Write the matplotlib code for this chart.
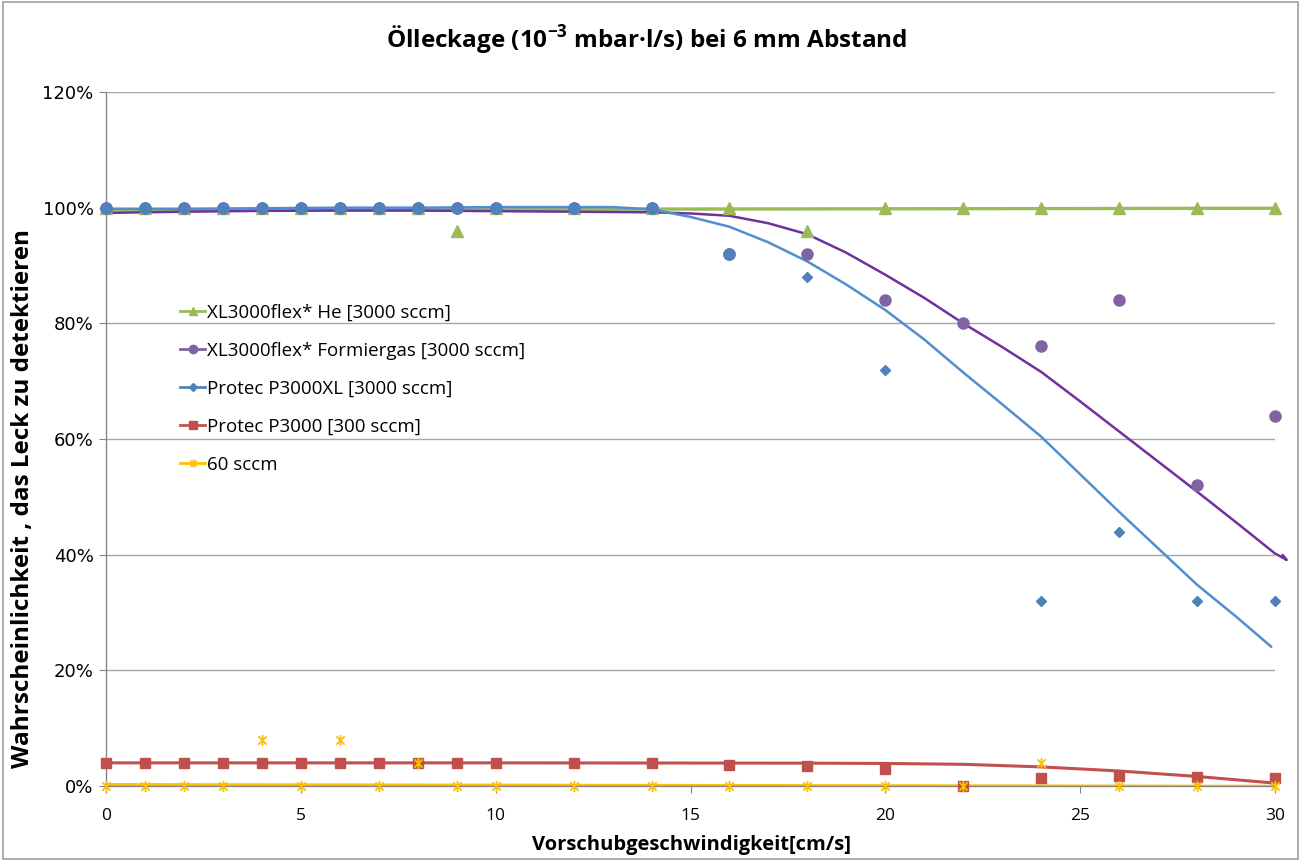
import numpy as np
import matplotlib
matplotlib.use("Agg")
import matplotlib.pyplot as plt
from matplotlib.lines import Line2D
from matplotlib.path import Path
from matplotlib.patches import Rectangle
from matplotlib.ticker import FuncFormatter

plt.rcParams['font.family'] = ['Open Sans', 'DejaVu Sans']
plt.rcParams['mathtext.fontset'] = 'custom'
plt.rcParams['mathtext.rm'] = 'Open Sans'
plt.rcParams['mathtext.bf'] = 'Open Sans:bold'

# ---------------- data ----------------
speed = [0, 1, 2, 3, 4, 5, 6, 7, 8, 9, 10, 12, 14, 16, 18, 20, 22, 24, 26, 28, 30]
he_3000 = [100, 100, 100, 100, 100, 100, 100, 100, 100, 96, 100, 100, 100,
           100, 96, 100, 100, 100, 100, 100, 100]
formier_3000 = [100, 100, 100, 100, 100, 100, 100, 100, 100, 100, 100, 100, 100,
                92, 92, 84, 80, 76, 84, 52, 64]
p3000xl_3000 = [100, 100, 100, 100, 100, 100, 100, 100, 100, 100, 100, 100, 100,
                92, 88, 72, np.nan, 32, 44, 32, 32]
p3000_300 = [4, 4, 4, 4, 4, 4, 4, 4, 4, 4, 4, 4, 4,
             3.7, 3.5, 3.0, 0, 1.3, 1.8, 1.5, 1.4]
sccm_60 = [0, 0, 0, 0, 8, 0, 8, 0, 4, 0, 0, 0, 0,
           0, 0, 0, 0, 4, 0, 0, 0]

# trend curves
trend_he_x = [0, 10, 20, 30]
trend_he_y = [99.6, 99.7, 99.8, 99.9]
trend_formier_x = [0, 2, 4, 6, 8, 10, 12, 14, 15, 16, 17, 18, 19, 20, 21, 22, 23,
                   24, 25, 26, 27, 28, 29, 30, 30.3, 30.2]
trend_formier_y = [99.1, 99.3, 99.45, 99.5, 99.5, 99.4, 99.3, 99.2, 99.0, 98.6,
                   97.3, 95.4, 92.2, 88.4, 84.4, 80.0, 75.9, 71.6, 66.5, 61.3,
                   56.1, 50.9, 45.6, 40.2, 39.1, 39.9]
trend_p3000xl_x = [0, 2, 4, 6, 8, 10, 12, 13, 14, 15, 16, 17, 18, 19, 20, 21, 22,
                   23, 24, 25, 26, 27, 28, 29, 29.9]
trend_p3000xl_y = [99.8, 99.8, 99.9, 100, 100, 100.1, 100.1, 100.1, 99.7, 98.4,
                   96.7, 94.0, 90.7, 86.7, 82.3, 77.2, 71.5, 66.0, 60.4, 53.9,
                   47.4, 41.1, 34.8, 29.3, 24.1]
trend_p3000_x = [0, 10, 18, 20, 22, 24, 26, 28, 30]
trend_p3000_y = [4.0, 4.0, 3.95, 3.9, 3.75, 3.3, 2.6, 1.65, 0.5]
trend_60_x = [0, 10, 20, 30]
trend_60_y = [0.2, 0.1, 0.0, -0.1]

labels = ["XL3000flex* He [3000 sccm]",
          "XL3000flex* Formiergas [3000 sccm]",
          "Protec P3000XL [3000 sccm]",
          "Protec P3000 [300 sccm]",
          "60 sccm"]
yticks = [0, 20, 40, 60, 80, 100, 120]
xticks = [0, 5, 10, 15, 20, 25, 30]
title = "Ölleckage (10$^{\\mathbf{-3}}$ mbar·l/s) bei 6 mm Abstand"
xlabel = "Vorschubgeschwindigkeit[cm/s]"
ylabel = "Wahrscheinlichkeit , das Leck zu detektieren"

# ---------------- styles ----------------
c_green = '#9BBB59'
c_purple = '#8064A2'
c_purple_line = '#7030A0'
c_blue = '#4F81BD'
c_blue_line = '#4F8FD0'
c_red = '#C0504D'
c_yellow = '#FFC000'
xl_circle_until = 16  # P3000XL points up to this speed are drawn as circles

star = Path([(0, -1), (0, 1), (-0.75, -0.75), (0.75, 0.75), (-0.75, 0.75), (0.75, -0.75)],
            [Path.MOVETO, Path.LINETO, Path.MOVETO, Path.LINETO, Path.MOVETO, Path.LINETO])

W, H = 1301, 861
fig = plt.figure(figsize=(W / 100, H / 100), dpi=100)
fig.patches.append(Rectangle((0.002, 0.002), 0.996, 0.996, transform=fig.transFigure,
                             fill=False, edgecolor='#A0A0A0', linewidth=1.2))
ax = fig.add_axes([106 / W, 1 - 786 / H, (1275 - 106) / W, (786 - 92) / H])

ax.set_xlim(0, 30)
ax.set_ylim(0, 120)
ax.set_yticks(yticks)
ax.set_xticks(xticks)
ax.yaxis.set_major_formatter(FuncFormatter(lambda v, p: f"{v:.0f}%"))
for s in ['top', 'right']:
    ax.spines[s].set_visible(False)
for s in ['left', 'bottom']:
    ax.spines[s].set_color('#868686')
    ax.spines[s].set_linewidth(1.0)
ax.grid(axis='y', color='#A6A6A6', linewidth=1.0)
ax.set_axisbelow(True)
ax.tick_params(axis='both', colors='#868686', labelcolor='black',
               length=5, direction='out')
ax.tick_params(axis='x', pad=11, labelsize=12.5)
ax.tick_params(axis='y', pad=4, labelsize=13)
for t in ax.get_yticklabels():
    t.set_family('DejaVu Sans')

# trend lines
ax.plot(trend_he_x, trend_he_y, color=c_green, lw=2.4, zorder=2, solid_capstyle='butt')
ax.plot(trend_formier_x, trend_formier_y, color=c_purple_line, lw=1.8, zorder=2, clip_on=False)
ax.plot(trend_p3000xl_x, trend_p3000xl_y, color=c_blue_line, lw=1.8, zorder=2)
ax.plot(trend_p3000_x, trend_p3000_y, color=c_red, lw=2.2, zorder=2)
ax.plot(trend_60_x, trend_60_y, color=c_yellow, lw=2.6, zorder=2)

# markers
sp = np.array(speed, dtype=float)
ax.plot(sp, he_3000, ls='none', marker='^', ms=8, color=c_green, mec=c_green, zorder=3, clip_on=False)
ax.plot(sp, formier_3000, ls='none', marker='o', ms=8, color=c_purple, mec=c_purple, zorder=4, clip_on=False)
xl = np.array(p3000xl_3000, dtype=float)
m_c = sp <= xl_circle_until
ax.plot(sp[m_c], xl[m_c], ls='none', marker='o', ms=8, color=c_blue, mec=c_blue, zorder=5, clip_on=False)
ax.plot(sp[~m_c], xl[~m_c], ls='none', marker='D', ms=5.5, color=c_blue, mec=c_blue, zorder=5, clip_on=False)
ax.plot(sp, p3000_300, ls='none', marker='s', ms=7, color=c_red, mec=c_red, zorder=6, clip_on=False)
ax.plot(sp, sccm_60, ls='none', marker=star, ms=8, mew=1.3, color=c_yellow, mec=c_yellow,
        mfc='none', zorder=7, clip_on=False)

# legend
handles = [
    Line2D([], [], color=c_green, lw=2, marker='^', ms=6),
    Line2D([], [], color=c_purple, lw=2, marker='o', ms=6),
    Line2D([], [], color=c_blue, lw=2, marker='D', ms=4.5),
    Line2D([], [], color=c_red, lw=2, marker='s', ms=5.5),
    Line2D([], [], color=c_yellow, lw=2, marker=star, ms=6, mfc='none', mew=1.2),
]
ax.legend(handles, labels, loc='upper left', bbox_to_anchor=(0.057, 0.706),
          frameon=False, fontsize=13.5, handlelength=1.35, handletextpad=0.1,
          labelspacing=1.07, borderaxespad=0)

fig.text(646.5 / W, 1 - 40 / H, title, fontsize=17.5, fontweight='bold',
         ha='center', va='center')
fig.text(691 / W, 1 - 845 / H, xlabel, fontsize=14.5, fontweight='bold',
         ha='center', va='center')
fig.text(23 / W, 1 - 499 / H, ylabel, fontsize=17.5, fontweight='bold',
         ha='center', va='center', rotation=90)

fig.savefig("out.png", dpi=100)
